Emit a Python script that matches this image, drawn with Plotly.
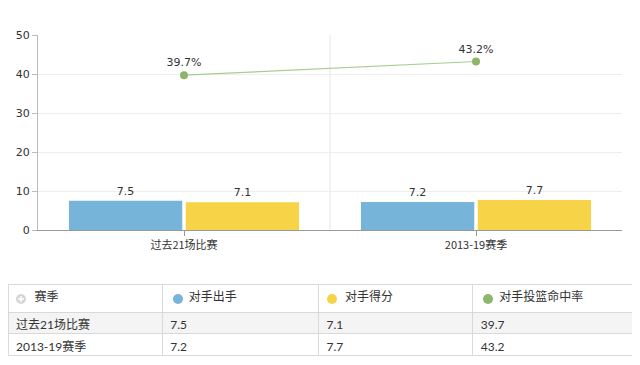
import plotly.graph_objects as go

categories = ["过去21场比赛", "2013-19赛季"]
shots = [7.5, 7.2]
points = [7.1, 7.7]
fg_pct = [39.7, 43.2]
series_names = ["对手出手", "对手得分", "对手投篮命中率"]
table_first_header = "赛季"

BLUE = "#76b5d9"
YELLOW = "#f7d347"
GREEN = "#8db56b"

# page has 8px body margin; figure placed at (8,8)
W, H = 632, 357
ML, MR, MT, MB = 0, 3, 27, 10
PW = W - ML - MR   # 629
PH = H - MT - MB   # 320

def px(page_x):
    return (page_x - 8 - ML) / PW

def py(page_y):
    return (H + 8 - MB - page_y) / PH

fig = go.Figure()

fig.add_trace(go.Bar(
    x=categories, y=shots, name=series_names[0],
    marker=dict(color=BLUE, line=dict(width=0)),
    text=[f"{v}" for v in shots], textposition="outside",
    textfont=dict(family="DejaVu Sans", size=11, color="#333"),
    cliponaxis=False, xaxis="x", yaxis="y",
))
fig.add_trace(go.Bar(
    x=categories, y=points, name=series_names[1],
    marker=dict(color=YELLOW, line=dict(width=0)),
    text=[f"{v}" for v in points], textposition="outside",
    textfont=dict(family="DejaVu Sans", size=11, color="#333"),
    cliponaxis=False, xaxis="x", yaxis="y",
))
fig.add_trace(go.Scatter(
    x=categories, y=fg_pct, name=series_names[2],
    mode="lines+markers+text",
    line=dict(color="#a8cc94", width=1.2),
    marker=dict(color=GREEN, size=8),
    text=[f"{v}%" for v in fg_pct], textposition="top center",
    textfont=dict(family="DejaVu Sans", size=11, color="#333"),
    cliponaxis=False, xaxis="x", yaxis="y",
))

pad = "\u00a0" * 6
header_vals = [pad + table_first_header] + [pad + n for n in series_names]

fig.add_trace(go.Table(
    domain=dict(x=[0, 1], y=[0, py(284)]),
    columnwidth=[154, 156, 154, 164],
    header=dict(
        values=header_vals,
        align="left", height=28,
        fill=dict(color="white"),
        line=dict(color="#d9d9d9", width=1),
        font=dict(family="Lato, Noto Sans CJK SC", size=12, color="#333"),
    ),
    cells=dict(
        values=[categories, [f"{v}" for v in shots], [f"{v}" for v in points], [f"{v}" for v in fg_pct]],
        align="left", height=21.5,
        fill=dict(color=[["#f4f4f4", "white"]] * 4),
        line=dict(color="#d9d9d9", width=1),
        font=dict(family="Lato, Noto Sans CJK SC", size=12, color="#333"),
    ),
))

# divider between categories
fig.add_shape(type="line", xref="x", yref="y", x0=0.5, x1=0.5, y0=0, y1=50,
              line=dict(color="#e6e6e6", width=1), layer="below")

# outer table border
fig.add_shape(type="rect", xref="paper", yref="paper",
              x0=px(8.5), x1=px(636.5), y0=py(355.5), y1=py(284.5),
              line=dict(color="#d9d9d9", width=1), fillcolor="rgba(0,0,0,0)", layer="above")

# header icons
r = 5
icon_y = 299
for cx, col in [(21, "#d6d6d6"), (178, BLUE), (332, YELLOW), (488, GREEN)]:
    fig.add_shape(type="circle", xref="paper", yref="paper",
                  x0=px(cx - r), x1=px(cx + r), y0=py(icon_y + r), y1=py(icon_y - r),
                  fillcolor=col, line=dict(width=0), layer="above")
# plus sign in the gray icon
fig.add_shape(type="line", xref="paper", yref="paper",
              x0=px(21 - 3), x1=px(21 + 3), y0=py(icon_y), y1=py(icon_y),
              line=dict(color="white", width=1.5), layer="above")
fig.add_shape(type="line", xref="paper", yref="paper",
              x0=px(21), x1=px(21), y0=py(icon_y - 3), y1=py(icon_y + 3),
              line=dict(color="white", width=1.5), layer="above")

fig.update_layout(
    width=W, height=H,
    margin=dict(l=ML, r=MR, t=MT, b=MB, autoexpand=False),
    paper_bgcolor="white", plot_bgcolor="white",
    showlegend=False,
    barmode="group", bargap=0.2, bargroupgap=0.03,
    font=dict(family="DejaVu Sans, Noto Sans CJK SC", size=11, color="#333"),
    xaxis=dict(
        domain=[px(38), px(622)],
        showline=True, linecolor="#999", linewidth=1,
        ticks="outside", ticklen=5, tickcolor="#999",
        showgrid=False,
        tickfont=dict(family="Noto Sans CJK SC, DejaVu Sans", size=11, color="#333"),
        anchor="y",
    ),
    yaxis=dict(
        domain=[py(230), py(35)],
        range=[0, 50], dtick=10,
        showline=True, linecolor="#bbb", linewidth=1,
        ticks="outside", ticklen=5, tickcolor="#bbb",
        showgrid=True, gridcolor="#eeeeee", gridwidth=1,
        zeroline=False,
        tickfont=dict(family="DejaVu Sans", size=11, color="#333"),
        anchor="x",
    ),
)

fig.write_html("out.html")
